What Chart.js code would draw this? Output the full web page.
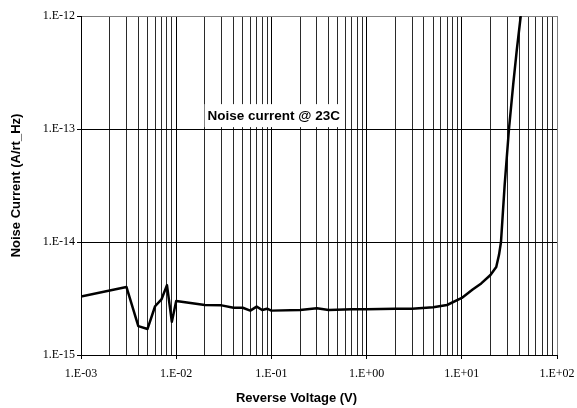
<!DOCTYPE html>
<html>
<head>
<meta charset="utf-8">
<script src="https://cdn.jsdelivr.net/npm/chart.js@4"></script>
<style>
html,body{margin:0;padding:0;background:#fff;}
canvas{display:block;}
</style>
</head>
<body>
<canvas id="c" width="577" height="408"></canvas>
<script>
// ---- data ----
const voltage = [1e-3, 3e-3, 4e-3, 5e-3, 6e-3, 7e-3, 8e-3, 9e-3, 1e-2, 2e-2, 3e-2, 4e-2, 5e-2, 6e-2, 7e-2, 8e-2, 9e-2, 0.1, 0.2, 0.3, 0.4, 0.7, 1, 2, 3, 5, 7, 10, 13, 16, 20, 23, 24.6, 25.8, 28.2, 31.3, 34.7, 37.8, 41.6];
const noiseCurrent = [3.3e-15, 4.0e-15, 1.8e-15, 1.7e-15, 2.7e-15, 3.1e-15, 4.15e-15, 1.97e-15, 3.0e-15, 2.77e-15, 2.75e-15, 2.62e-15, 2.62e-15, 2.47e-15, 2.68e-15, 2.5e-15, 2.57e-15, 2.47e-15, 2.5e-15, 2.59e-15, 2.5e-15, 2.54e-15, 2.54e-15, 2.56e-15, 2.57e-15, 2.65e-15, 2.77e-15, 3.2e-15, 3.8e-15, 4.3e-15, 5.1e-15, 6.0e-15, 7.7e-15, 1.0e-14, 3.2e-14, 1.0e-13, 2.5e-13, 5.0e-13, 1.0e-12];
const xDecades = [1e-3, 1e-2, 1e-1, 1e0, 1e1, 1e2];
const xTickLabels = ['1.E-03', '1.E-02', '1.E-01', '1.E+00', '1.E+01', '1.E+02'];
const yDecades = [1e-15, 1e-14, 1e-13, 1e-12];
const yTickLabels = ['1.E-15', '1.E-14', '1.E-13', '1.E-12'];
const xTitle = 'Reverse Voltage (V)';
const yTitle = 'Noise Current (A/rt_Hz)';
const annotationText = 'Noise current @ 23C';
const annotationAt = {x: 0.106, y: 1.3e-13};

// ---- helpers ----
function decadeIndex(list, v) {
  for (let i = 0; i < list.length; i++) {
    if (Math.abs(Math.log10(v) - Math.log10(list[i])) < 1e-6) return i;
  }
  return -1;
}
const xMinorTicks = [];
for (let d = 0; d < xDecades.length - 1; d++) {
  for (let m = 1; m <= 9; m++) xMinorTicks.push(m * xDecades[d]);
}
xMinorTicks.push(xDecades[xDecades.length - 1]);

const bgPlugin = {
  id: 'bg',
  beforeDraw(chart) {
    const c = chart.ctx;
    c.save(); c.fillStyle = '#fff'; c.fillRect(0, 0, chart.width, chart.height); c.restore();
  }
};
const extrasPlugin = {
  id: 'extras',
  afterDatasetsDraw(chart) {
    const c = chart.ctx;
    const xs = chart.scales.x, ys = chart.scales.y;
    // annotation
    const ax = xs.getPixelForValue(annotationAt.x);
    const ay = ys.getPixelForValue(annotationAt.y);
    c.save();
    c.font = 'bold 13.5px "Liberation Sans", Arial, sans-serif';
    const w = c.measureText(annotationText).width;
    c.fillStyle = '#fff';
    c.fillRect(ax - w / 2 - 3, ay - 12, w + 6, 23);
    c.fillStyle = '#000';
    c.textAlign = 'center';
    c.textBaseline = 'middle';
    c.fillText(annotationText, ax, ay);
    // x axis title
    c.font = 'bold 13px "Liberation Sans", Arial, sans-serif';
    c.fillText(xTitle, chart.width / 2 + 8, chart.height - 10);
    c.restore();
  }
};

new Chart(document.getElementById('c'), {
  type: 'line',
  data: {
    datasets: [{
      data: voltage.map((v, i) => ({x: v, y: noiseCurrent[i]})),
      borderColor: '#000',
      borderWidth: 2.5,
      pointRadius: 0,
      tension: 0,
      fill: false,
      borderJoinStyle: 'round'
    }]
  },
  options: {
    responsive: false,
    animation: false,
    plugins: {legend: {display: false}, tooltip: {enabled: false}},
    layout: {padding: {top: 16, right: 20, left: 0, bottom: 0}},
    scales: {
      x: {
        type: 'logarithmic',
        min: xDecades[0],
        max: xDecades[xDecades.length - 1],
        afterBuildTicks(scale) {
          scale.ticks = xMinorTicks.map(v => ({value: v, major: decadeIndex(xDecades, v) >= 0}));
        },
        afterFit(scale) {
          scale.height = 53;
          scale.paddingLeft = 0;
          scale.paddingRight = 0;
        },
        ticks: {
          autoSkip: false,
          maxRotation: 0,
          minRotation: 0,
          padding: 8,
          color: '#000',
          font: {family: '"Liberation Serif", "Times New Roman", serif', size: 12},
          callback(value) {
            const i = decadeIndex(xDecades, value);
            return i >= 0 ? xTickLabels[i] : '';
          }
        },
        grid: {
          drawOnChartArea: true,
          drawTicks: true,
          tickLength: 4,
          lineWidth: 1,
          color(ctx) {
            const v = ctx.tick ? ctx.tick.value : 0;
            if (decadeIndex(xDecades, v) === xDecades.length - 1) return '#808080';
            return decadeIndex(xDecades, v) >= 0 ? '#000' : '#2a2a2a';
          },
          tickColor(ctx) {
            const v = ctx.tick ? ctx.tick.value : 0;
            return decadeIndex(xDecades, v) >= 0 ? '#000' : 'rgba(0,0,0,0)';
          }
        },
        border: {display: true, color: '#000', width: 1},
        title: {display: false}
      },
      y: {
        type: 'logarithmic',
        min: yDecades[0],
        max: yDecades[yDecades.length - 1],
        afterBuildTicks(scale) {
          scale.ticks = yDecades.map(v => ({value: v, major: true}));
        },
        afterFit(scale) {
          scale.width = 81;
          scale.paddingTop = 0;
          scale.paddingBottom = 0;
        },
        ticks: {
          autoSkip: false,
          padding: 2,
          color: '#000',
          font: {family: '"Liberation Serif", "Times New Roman", serif', size: 12},
          callback(value) {
            const i = decadeIndex(yDecades, value);
            return i >= 0 ? yTickLabels[i] : '';
          }
        },
        grid: {
          drawOnChartArea: true,
          drawTicks: true,
          tickLength: 4,
          lineWidth: 1,
          color(ctx) {
            const v = ctx.tick ? ctx.tick.value : 0;
            return decadeIndex(yDecades, v) === yDecades.length - 1 ? '#808080' : '#000';
          },
          tickColor: '#000'
        },
        border: {display: true, color: '#000', width: 1},
        title: {
          display: true,
          text: yTitle,
          color: '#000',
          font: {family: '"Liberation Sans", Arial, sans-serif', size: 13, weight: 'bold'},
          padding: {top: 9, bottom: 0}
        }
      }
    }
  },
  plugins: [bgPlugin, extrasPlugin]
});
</script>
</body>
</html>
